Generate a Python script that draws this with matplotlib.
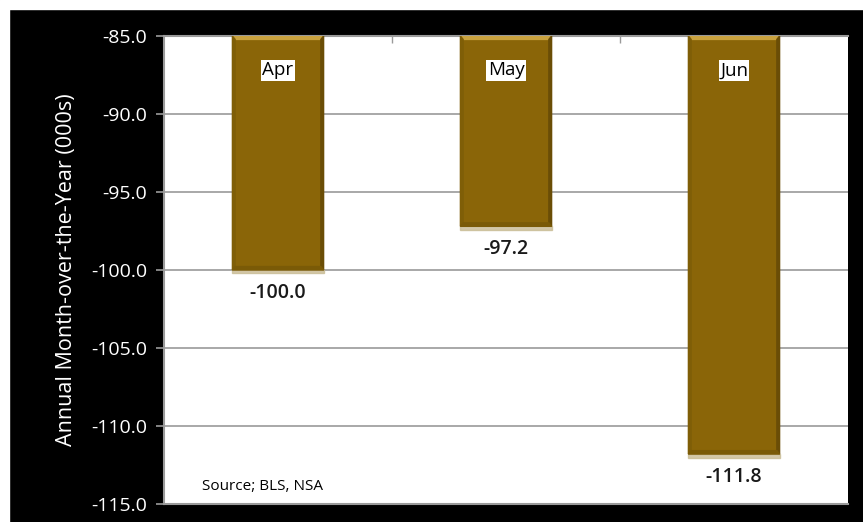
import matplotlib.pyplot as plt
from matplotlib.patches import Rectangle, Polygon

# données (milliers)
mois = ['Apr', 'May', 'Jun']
valeurs = [-100.0, -97.2, -111.8]
y_min, y_max = -115.0, -85.0
graduations = [-115.0, -110.0, -105.0, -100.0, -95.0, -90.0, -85.0]

plt.rcParams['font.family'] = ['Open Sans', 'DejaVu Sans']

fig = plt.figure(figsize=(8.63, 5.22), dpi=100, facecolor='black')
# bandes blanches en haut et à gauche (recadrage de l'original)
fig.patches.append(Rectangle((0, 1 - 9 / 522), 1, 9 / 522, transform=fig.transFigure,
                             color='white', zorder=0))
fig.patches.append(Rectangle((0, 0), 9 / 863, 1, transform=fig.transFigure,
                             color='white', zorder=0))

ax = fig.add_axes([164 / 863, 1 - 504 / 522, 684 / 863, 468 / 522])
ax.set_facecolor('white')
ax.set_xlim(-0.5, len(mois) - 0.5)
ax.set_ylim(y_min, y_max)

largeur = 0.4
or_fonce = '#8a6508'
for i, v in enumerate(valeurs):
    ax.bar(i, v - y_max, bottom=y_max, width=largeur, color=or_fonce, zorder=3)
    g, d = i - largeur / 2, i + largeur / 2
    e = 0.012   # biseau horizontal
    ev = 0.22   # biseau vertical
    # biseau : haut clair, côtés sombres, bas ombré
    ax.add_patch(Polygon([(g, y_max), (d, y_max), (d - e, y_max - ev), (g + e, y_max - ev)],
                         color='#c9a23e', zorder=4))
    ax.add_patch(Polygon([(d, y_max), (d, v), (d - e, v + ev), (d - e, y_max - ev)],
                         color='#6a4d06', zorder=4))
    ax.add_patch(Polygon([(g, y_max), (g, v), (g + e, v + ev), (g + e, y_max - ev)],
                         color='#7f5e07', zorder=4))
    ax.add_patch(Polygon([(g, v), (d, v), (d - e, v + ev), (g + e, v + ev)],
                         color='#7a5a07', zorder=4))
    ax.add_patch(Rectangle((g, v - 0.22), largeur, 0.22, color='#c8bb94', alpha=0.8, zorder=2))
    ax.text(i, y_max - 2.2, mois[i], ha='center', va='center', fontsize=13.5,
            color='black', zorder=5,
            bbox=dict(facecolor='white', edgecolor='none', pad=1.0))
    ax.text(i, v - 1.45, f'{v:.1f}', ha='center', va='center', fontsize=14,
            fontweight='semibold', color='#1a1a1a', zorder=5)

ax.set_yticks(graduations)
ax.set_yticklabels([f'{t:.1f}' for t in graduations], color='white', fontsize=14)
ax.yaxis.grid(True, color='#9a9a9a', lw=1.2, zorder=1)
ax.set_xticks([0.5, 1.5])
ax.set_xticklabels([])
ax.tick_params(axis='x', top=True, bottom=False, direction='in', length=5,
               color='#9a9a9a', width=1)
ax.tick_params(axis='y', length=6, color='#9a9a9a', width=1.2, pad=6)
for cote in ['left', 'bottom', 'top']:
    ax.spines[cote].set_color('#9a9a9a')
    ax.spines[cote].set_linewidth(1.5)
ax.spines['right'].set_visible(False)

ax.set_ylabel('Annual Month-over-the-Year (000s)', color='white', fontsize=15.5, labelpad=10)
ax.text(0.055, 0.022, 'Source; BLS, NSA', transform=ax.transAxes, fontsize=11,
        color='black', va='bottom')

fig.savefig('out.png', dpi=100, facecolor=fig.get_facecolor())
